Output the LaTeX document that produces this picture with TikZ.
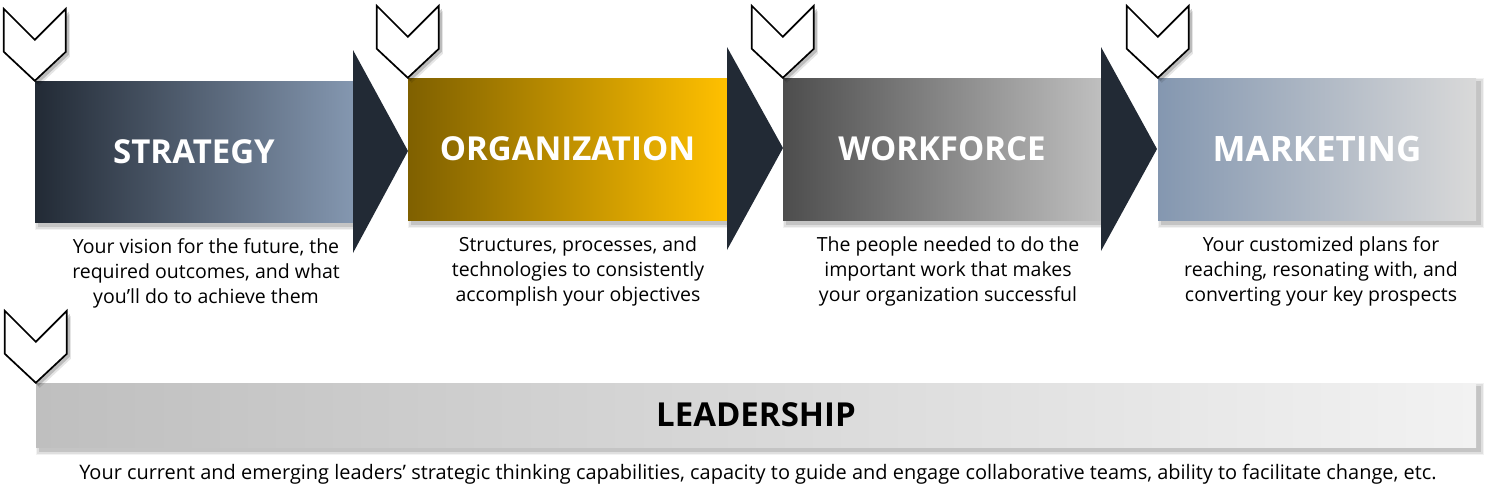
\documentclass[tikz,border=0pt]{standalone}
\usepackage{fontspec}
\setmainfont{Open Sans}
\definecolor{navy}{HTML}{222A35}
\definecolor{slate}{HTML}{8497B0}
\definecolor{goldD}{HTML}{7F6000}
\definecolor{goldL}{HTML}{FFC000}
\definecolor{grayD}{HTML}{4D4D4D}
\definecolor{grayM}{HTML}{BFBFBF}
\definecolor{grayL}{HTML}{D9D9D9}
\definecolor{grayXL}{HTML}{F2F2F2}
\pgfdeclarelayer{bg}
\pgfsetlayers{bg,main}
\tikzset{
  box/.style={draw=none, shading=axis, shading angle=90, inner sep=0pt,
    text=white, font=\bfseries\fontsize{33}{38}\selectfont},
  desc/.style={align=center, inner sep=0pt, text=black, font=\fontsize{19.5}{25}\selectfont},
  tri/.style={fill=navy},
  chevfill/.style={fill=white, draw=black, line width=1.7pt, line join=miter},
  pics/chev/.style={code={
    \fill[black, opacity=0.18] (-28,-69) -- (3,-38) -- (34,-69) -- (34,-26) -- (3,3) -- (-28,-26) -- cycle;
    \fill[black, opacity=0.10] (-27,-67) -- (4,-36) -- (35,-67) -- (35,-24) -- (4,5) -- (-27,-24) -- cycle;
    \draw[chevfill] (-31,-72) -- (0,-41) -- (31,-72) -- (31,-29) -- (0,0) -- (-31,-29) -- cycle;
  }}
}
\newcommand\boxshadow[1]{%
  \foreach \s/\o in {4/0.05,2.5/0.08,1/0.12}{%
    \fill[black, opacity=\o] ([shift={(4-\s,4-\s)}]#1.north west) rectangle ([shift={(4+\s,4+\s)}]#1.south east);}}
\begin{document}
\begin{tikzpicture}[x=1pt,y=-1pt]
\useasboundingbox (0,0) rectangle (1489,496);
% boxes
\node[box, minimum width=318, minimum height=141, left color=navy, right color=slate] (s) at (194,151.5) {STRATEGY};
\node[box, minimum width=319, minimum height=142, left color=goldD, right color=goldL] (o) at (567.5,149) {ORGANIZATION};
\node[box, minimum width=318, minimum height=142, left color=grayD, right color=grayM] (w) at (942,149) {WORKFORCE};
\node[box, minimum width=318, minimum height=142, left color=slate, right color=grayL,
      font=\bfseries\fontsize{35}{38}\selectfont] (m) at (1317,149) {MARKETING};
\node[box, minimum width=1440, minimum height=64, left color=grayM, right color=grayXL, text=black] (l) at (756,415) {LEADERSHIP};
\begin{pgfonlayer}{bg}
  \boxshadow{s}\boxshadow{o}\boxshadow{w}\boxshadow{m}\boxshadow{l}
\end{pgfonlayer}
% triangles
\fill[tri] (353,50) -- (408,151) -- (353,253) -- cycle;
\fill[tri] (727,47) -- (783,148) -- (727,250) -- cycle;
\fill[tri] (1101,47) -- (1157,149) -- (1101,251) -- cycle;
% chevrons
\pic at (s.north west) {chev};
\pic at (o.north west) {chev};
\pic at (w.north west) {chev};
\pic at (m.north west) {chev};
\pic at (l.north west) {chev};
% descriptions
\node[desc] (sd) at (206,273) {Your vision for the future, the\\required outcomes, and what\\you’ll do to achieve them};
\node[desc] (od) at (578,271) {Structures, processes, and\\technologies to consistently\\accomplish your objectives};
\node[desc] (wd) at (948,271) {The people needed to do the\\important work that makes\\your organization successful};
\node[desc] (md) at (1321,271) {Your customized plans for\\reaching, resonating with, and\\converting your key prospects};
\node[desc, font=\fontsize{19.95}{25}\selectfont] (ld) at (758,474) {Your current and emerging leaders’ strategic thinking capabilities, capacity to guide and engage collaborative teams, ability to facilitate change, etc.};
\end{tikzpicture}
\end{document}
